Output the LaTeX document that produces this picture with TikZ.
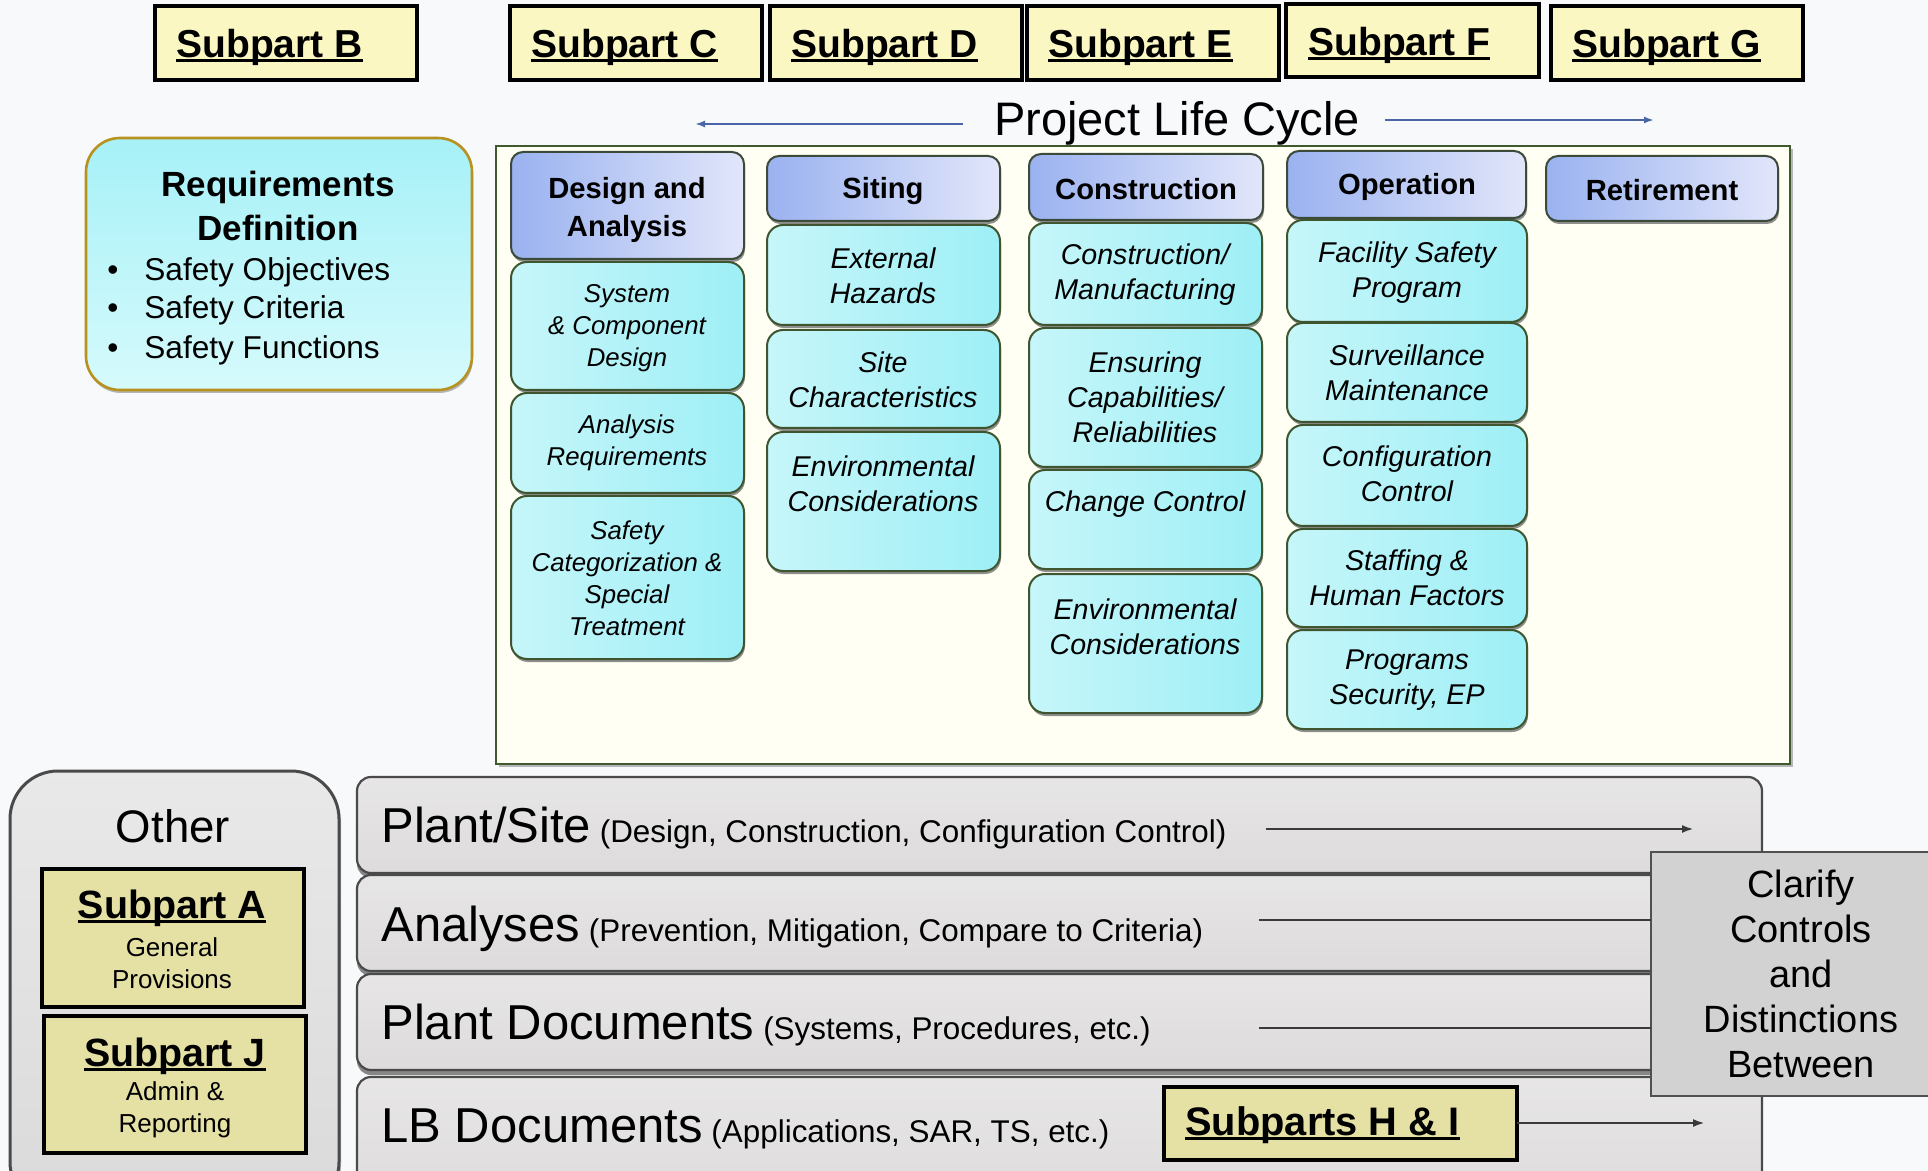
\documentclass[tikz,border=0pt]{standalone}
\usepackage{fontspec}
\setmainfont{Liberation Sans}
\usetikzlibrary{shadows,arrows.meta,calc}
\definecolor{bgc}{HTML}{F7F9FA}
\definecolor{subY}{HTML}{FAF7C2}
\definecolor{subK}{HTML}{E5E1A5}
\definecolor{reqT}{HTML}{A6F1F7}
\definecolor{reqBt}{HTML}{D6FAFC}
\definecolor{reqB}{HTML}{B8921E}
\definecolor{hdrL}{HTML}{9AB2F0}
\definecolor{hdrR}{HTML}{E2E6FA}
\definecolor{hdrB}{HTML}{3C4A3A}
\definecolor{itmL}{HTML}{C6F6F9}
\definecolor{itmR}{HTML}{9EEFF6}
\definecolor{itmB}{HTML}{3E5530}
\definecolor{contF}{HTML}{FFFFF4}
\definecolor{contB}{HTML}{3E5A2E}
\definecolor{barF}{HTML}{DDDBDC}
\definecolor{barB}{HTML}{4A4A4A}
\definecolor{barS}{HTML}{7A7A7A}
\definecolor{othF}{HTML}{DADADA}
\definecolor{clrF}{HTML}{D2D2D2}
\definecolor{clrB}{HTML}{505050}
\definecolor{plcA}{HTML}{4A66A8}
\definecolor{arrC}{HTML}{3A3A3A}
\newcommand{\boxnode}[6]{\node[#2, anchor=north west, inner sep=0pt, outer sep=0pt, minimum width={(#5-#3)*0.5pt}, minimum height={(#6-#4)*0.5pt}] (#1) at (#3,#4) {};}
\newcommand{\myul}[1]{\setbox0\hbox{#1}\rlap{\rule[-0.12em]{\wd0}{0.07em}}\box0}
\begin{document}
\begin{tikzpicture}[x=0.5pt,y=-0.5pt,
  subp/.style={draw=black, line width=2.2pt, fill=subY},
  subk/.style={draw=black, line width=2.2pt, fill=subK},
  subtext/.style={anchor=west, inner sep=0pt, font=\bfseries\fontsize{19.5}{23}\selectfont},
  hdr/.style={rounded corners=6pt, draw=hdrB, line width=1pt, left color=hdrL, right color=hdrR,
     drop shadow={shadow xshift=0.5pt, shadow yshift=-1.5pt, fill=black!55, opacity=0.8}},
  hdrtext/.style={align=center, font=\bfseries\fontsize{14.6}{19}\selectfont},
  itm/.style={rounded corners=8pt, draw=itmB, line width=1pt, left color=itmL, right color=itmR,
     drop shadow={shadow xshift=0.5pt, shadow yshift=-1.5pt, fill=black!55, opacity=0.8}},
  itext/.style={align=center, font=\itshape\fontsize{14.3}{17.5}\selectfont},
  itextS/.style={align=center, font=\itshape\fontsize{12.9}{16}\selectfont},
  bar/.style={rounded corners=7pt, draw=barB, line width=1.1pt, top color=barF!70!white, bottom color=barF,
     drop shadow={shadow xshift=0pt, shadow yshift=-2.5pt, fill=barS, opacity=0.9}},
  bartext/.style={anchor=base west, inner sep=0pt},
  plcarrow/.style={draw=plcA, line width=1pt, -{Latex[length=5pt,width=3.5pt]}},
  botarrow/.style={draw=arrC, line width=1.2pt, -{Latex[length=6pt,width=4pt]}},
  botline/.style={draw=arrC, line width=1.2pt}
]
\clip (0,0) rectangle (1928,1171);
\fill[bgc] (0,0) rectangle (1928,1171);

% top subpart boxes
\boxnode{sB}{subp}{155}{6}{417}{80}
\boxnode{sC}{subp}{510}{6}{762}{80}
\boxnode{sD}{subp}{770}{6}{1022}{80}
\boxnode{sE}{subp}{1027}{6}{1279}{80}
\boxnode{sF}{subp}{1286}{4}{1539}{77}
\boxnode{sG}{subp}{1551}{6}{1803}{80}
\node[subtext] (tB) at (176,47) {\myul{Subpart B}};
\node[subtext] (tC) at (531,47) {\myul{Subpart C}};
\node[subtext] (tD) at (791,47) {\myul{Subpart D}};
\node[subtext] (tE) at (1048,47) {\myul{Subpart E}};
\node[subtext] (tF) at (1308,45) {\myul{Subpart F}};
\node[subtext] (tG) at (1572,47) {\myul{Subpart G}};

% project life cycle
\node[font=\fontsize{23.5}{28}\selectfont] (plc) at (1177,123) {Project Life Cycle};
\coordinate (lcL) at (695,124);
\coordinate (lcR) at (1654,120);
\draw[plcarrow] ($(plc.west |- lcL)+(-24,0)$) -- (lcL);
\draw[plcarrow] ($(plc.east |- lcR)+(18,0)$) -- (lcR);

% requirements definition
\boxnode{req}{rounded corners=17pt, draw=reqB, line width=1.3pt, top color=reqT, bottom color=reqBt,
   drop shadow={shadow xshift=0.5pt, shadow yshift=-1.5pt, fill=black!40, opacity=0.7}}{86}{138}{472}{390}
\node[align=center, font=\bfseries\fontsize{17.5}{22}\selectfont] (reqt) at (278,206) {Requirements\\Definition};
\node[anchor=base, font=\fontsize{15.8}{19}\selectfont] (b1) at (113,281) {•};
\node[anchor=base, font=\fontsize{15.8}{19}\selectfont] (b2) at (113,319) {•};
\node[anchor=base, font=\fontsize{15.8}{19}\selectfont] (b3) at (113,359) {•};
\node[anchor=base west, inner sep=0pt, font=\fontsize{15.8}{19}\selectfont] (r1) at (144,281) {Safety Objectives};
\node[anchor=base west, inner sep=0pt, font=\fontsize{15.8}{19}\selectfont] (r2) at (144,319) {Safety Criteria};
\node[anchor=base west, inner sep=0pt, font=\fontsize{15.8}{19}\selectfont] (r3) at (144,359) {Safety Functions};

% container
\boxnode{cont}{draw=contB, line width=1.3pt, fill=contF,
   drop shadow={shadow xshift=1.5pt, shadow yshift=-1.5pt, fill=black!35, opacity=0.8}}{496}{146}{1790}{764}

% headers
\boxnode{hDA}{hdr}{511}{152}{744}{259}
\boxnode{hSI}{hdr}{767}{156}{1000}{221}
\boxnode{hCO}{hdr}{1029}{154}{1263}{220}
\boxnode{hOP}{hdr}{1287}{151}{1526}{218}
\boxnode{hRE}{hdr}{1546}{156}{1778}{221}
\node[hdrtext] (thDA) at (627,210) {Design and\\Analysis};
\node[hdrtext] (thSI) at (883,191) {Siting};
\node[hdrtext] (thCO) at (1146,189) {Construction};
\node[hdrtext] (thOP) at (1407,187) {Operation};
\node[hdrtext] (thRE) at (1662,190) {Retirement};

% column 1
\boxnode{i11}{itm}{511}{262}{744}{390}
\boxnode{i12}{itm}{511}{393}{744}{493}
\boxnode{i13}{itm}{511}{496}{744}{659}
\node[itextS] (ti11) at (627,328) {System\\\& Component\\Design};
\node[itextS] (ti12) at (627,443) {Analysis\\Requirements};
\node[itextS] (ti13) at (627,578) {Safety\\Categorization \&\\Special\\Treatment};

% column 2
\boxnode{i21}{itm}{767}{225}{1000}{325}
\boxnode{i22}{itm}{767}{330}{1000}{428}
\boxnode{i23}{itm}{767}{432}{1000}{571}
\node[itext] (ti21) at (883,276) {External\\Hazards};
\node[itext] (ti22) at (883,380) {Site\\Characteristics};
\node[itext] (ti23) at (883,484) {Environmental\\Considerations};

% column 3
\boxnode{i31}{itm}{1029}{223}{1262}{325}
\boxnode{i32}{itm}{1029}{328}{1262}{467}
\boxnode{i33}{itm}{1029}{470}{1262}{569}
\boxnode{i34}{itm}{1029}{574}{1262}{713}
\node[itext] (ti31) at (1145,275) {Construction/\\Manufacturing};
\node[itext] (ti32) at (1145,397) {Ensuring\\Capabilities/\\Reliabilities};
\node[itext] (ti33) at (1145,504) {Change Control};
\node[itext] (ti34) at (1145,627) {Environmental\\Considerations};

% column 4
\boxnode{i41}{itm}{1287}{220}{1527}{322}
\boxnode{i42}{itm}{1287}{323}{1527}{422}
\boxnode{i43}{itm}{1287}{425}{1527}{526}
\boxnode{i44}{itm}{1287}{529}{1527}{627}
\boxnode{i45}{itm}{1287}{630}{1527}{729}
\node[itext] (ti41) at (1407,273) {Facility Safety\\Program};
\node[itext] (ti42) at (1407,373) {Surveillance\\Maintenance};
\node[itext] (ti43) at (1407,474) {Configuration\\Control};
\node[itext] (ti44) at (1407,578) {Staffing \&\\Human Factors};
\node[itext] (ti45) at (1407,680) {Programs\\Security, EP};

% other box
\boxnode{oth}{rounded corners=24pt, draw=barB, line width=1.5pt, top color=othF!60!white, bottom color=othF,
   drop shadow={shadow xshift=1pt, shadow yshift=-1.5pt, fill=black!40, opacity=0.7}}{10}{771}{339}{1210}
\node[font=\fontsize{22.8}{27}\selectfont] (toth) at (173,826) {Other};
\boxnode{sA}{subk}{42}{869}{304}{1007}
\boxnode{sJ}{subk}{44}{1016}{306}{1153}
\node[font=\bfseries\fontsize{19.7}{23}\selectfont] (tA) at (172,908) {\myul{Subpart A}};
\node[align=center, font=\fontsize{13}{16}\selectfont] (tA2) at (172,963) {General\\Provisions};
\node[font=\bfseries\fontsize{19.7}{23}\selectfont] (tJ) at (175,1056) {\myul{Subpart J}};
\node[align=center, font=\fontsize{13}{16}\selectfont] (tJ2) at (175,1110) {Admin \&\\Reporting};

% bars
\boxnode{bPS}{bar}{357}{777}{1762}{873}
\boxnode{bAN}{bar}{357}{875}{1762}{971}
\boxnode{bPD}{bar}{357}{974}{1762}{1070}
\boxnode{bLB}{bar}{357}{1077}{1762}{1210}
\node[bartext] (tPS) at (381,842) {{\fontsize{24.5}{28}\selectfont Plant/Site}{\fontsize{15.7}{18}\selectfont{} (Design, Construction, Configuration Control)}};
\node[bartext] (tAN) at (381,941) {{\fontsize{24.5}{28}\selectfont Analyses}{\fontsize{15.7}{18}\selectfont{} (Prevention, Mitigation, Compare to Criteria)}};
\node[bartext] (tPD) at (381,1039) {{\fontsize{24.5}{28}\selectfont Plant Documents}{\fontsize{15.7}{18}\selectfont{} (Systems, Procedures, etc.)}};
\node[bartext] (tLB) at (381,1142) {{\fontsize{24.5}{28}\selectfont LB Documents}{\fontsize{15.7}{18}\selectfont{} (Applications, SAR, TS, etc.)}};

% clarify box
\boxnode{clar}{draw=clrB, line width=1.2pt, fill=clrF}{1651}{852}{1945}{1096}
\node[align=center, font=\fontsize{19}{22.5}\selectfont] (tclar) at (1801,974) {Clarify\\Controls\\and\\Distinctions\\Between};

% subparts H & I
\boxnode{sHI}{subk}{1164}{1087}{1517}{1160}
\node[subtext, font=\bfseries\fontsize{19.9}{23}\selectfont] (tHI) at (1185,1125) {\myul{Subparts H \& I}};

% bottom connectors
\coordinate (psS) at (1266,829);
\coordinate (psE) at (1694,829);
\draw[botarrow] (psS) -- (psE);
\coordinate (anS) at (1259,920);
\draw[botline] (anS) -- (anS -| clar.west);
\coordinate (pdS) at (1259,1028);
\draw[botline] (pdS) -- (pdS -| clar.west);
\coordinate (hiE) at (1705,1123);
\draw[botarrow] (sHI.east |- hiE) -- (hiE);
\end{tikzpicture}
\end{document}
